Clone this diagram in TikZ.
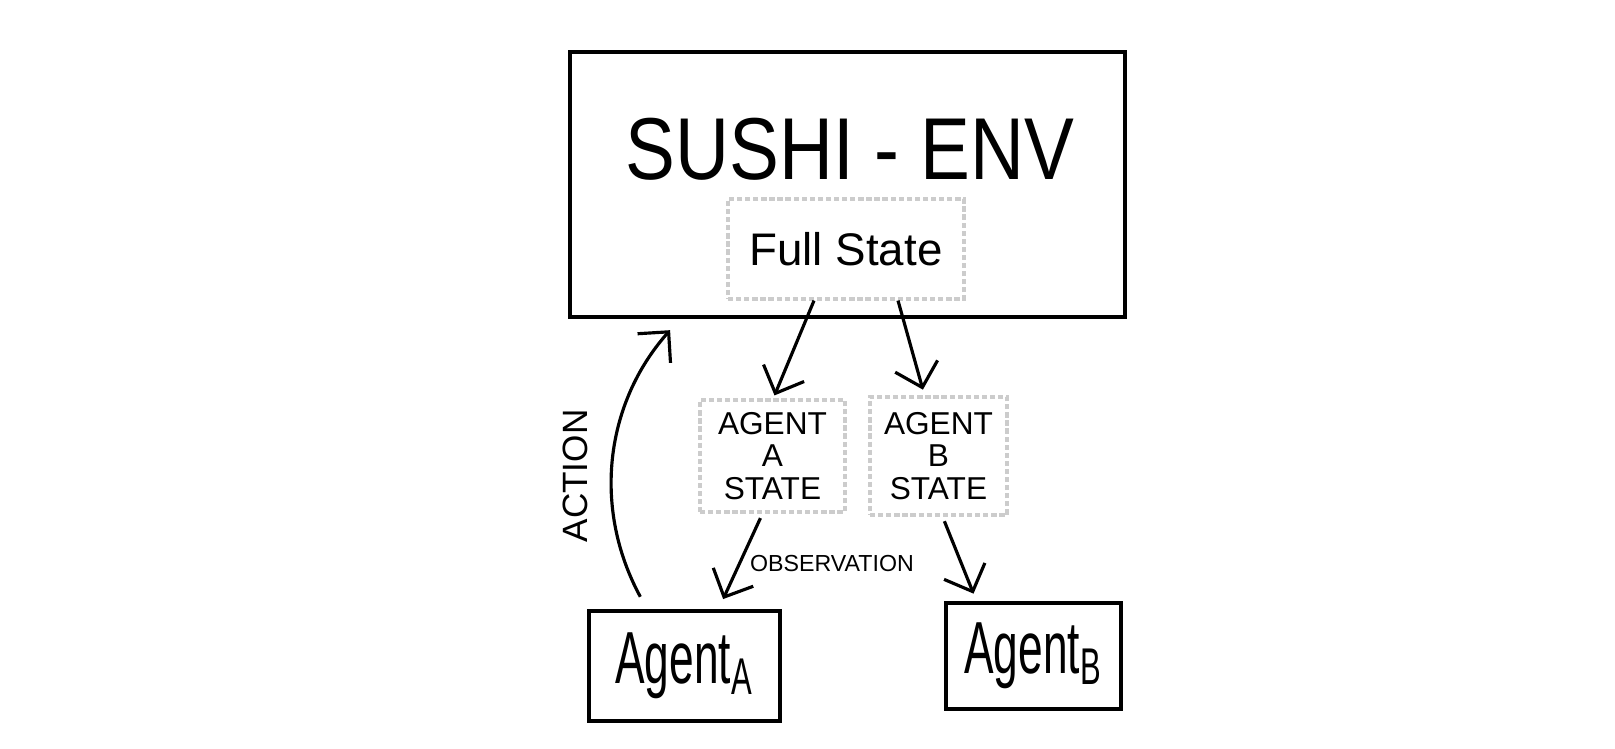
\documentclass[tikz,border=0pt]{standalone}
\usepackage{fontspec}
\setmainfont{Liberation Sans}
\newfontfamily\handfont{Liberation Sans}[FakeStretch=0.6]
\newfontfamily\titlefont{Liberation Sans}[FakeStretch=0.85]
\usetikzlibrary{arrows.meta}

\begin{document}
\begin{tikzpicture}[
  sketchbox/.style={draw, line width=1.1pt, inner sep=0pt},
  statebox/.style={draw=gray!40, dash pattern=on 1.5pt off 0.8pt, line width=0.9pt, inner sep=0pt, align=center},
  flow/.style={-{Straight Barb[length=2.2mm,width=4.4mm]}, line width=0.9pt},
  capsfont/.style={font=\fontsize{9}{9.2}\selectfont}
]
  %uncomment to see the pixel grid it was measured on:
  %\draw[dotted,step=1.0,black,very thin] (0,0) grid (16,7);
  \useasboundingbox (0,0) rectangle (16.15,7.48);

  % environment box
  \node[sketchbox, minimum width=5.55cm, minimum height=2.65cm] (env) at (8.475,5.635) {};
  \node[font=\titlefont\fontsize{25}{25}\selectfont] (title) at (8.5,5.99) {SUSHI - ENV};
  \node[statebox, minimum width=2.36cm, minimum height=1.0cm, font=\fontsize{13}{13}\selectfont] (full) at (8.46,4.99) {Full State};

  % agent states
  \node[statebox, capsfont, minimum width=1.45cm, minimum height=1.12cm] (astate) at (7.725,2.92) {AGENT\\A\\STATE};
  \node[statebox, capsfont, minimum width=1.37cm, minimum height=1.18cm] (bstate) at (9.385,2.92) {AGENT\\B\\STATE};

  % agents
  \node[sketchbox, minimum width=1.91cm, minimum height=1.10cm, font=\handfont\fontsize{21}{21}\selectfont] (agenta) at (6.845,0.82) {Agent\textsubscript{A}};
  \node[sketchbox, minimum width=1.75cm, minimum height=1.06cm, font=\handfont\fontsize{21}{21}\selectfont] (agentb) at (10.335,0.92) {Agent\textsubscript{B}};

  % connectors
  \draw[flow] ([xshift=-3.2mm]full.south) -- ([xshift=0.2mm,yshift=0.3mm]astate.north);
  \draw[flow, shorten >=0.6mm] ([xshift=5.2mm]full.south) -- ([xshift=-1.4mm]bstate.north);
  \draw[flow, shorten <=0.5mm, shorten >=1.1mm] ([xshift=-1mm]astate.south) -- ([xshift=3.4mm]agenta.north);
  \draw[flow, shorten <=0.5mm, shorten >=0.8mm] ([xshift=0.4mm]bstate.south) -- ([xshift=-5.7mm]agentb.north);
  \draw[flow, shorten <=1.4mm, shorten >=1.5mm] ([xshift=-3.75mm]agenta.north) to[bend left=35] ([xshift=-16.75mm]env.south);

  % labels
  \node[rotate=90, font=\fontsize{10}{10}\selectfont] (action) at (5.75,2.72) {ACTION};
  \node[font=\fontsize{6.6}{6.6}\selectfont] (obs) at (8.32,1.84) {OBSERVATION};

\end{tikzpicture}
\end{document}
